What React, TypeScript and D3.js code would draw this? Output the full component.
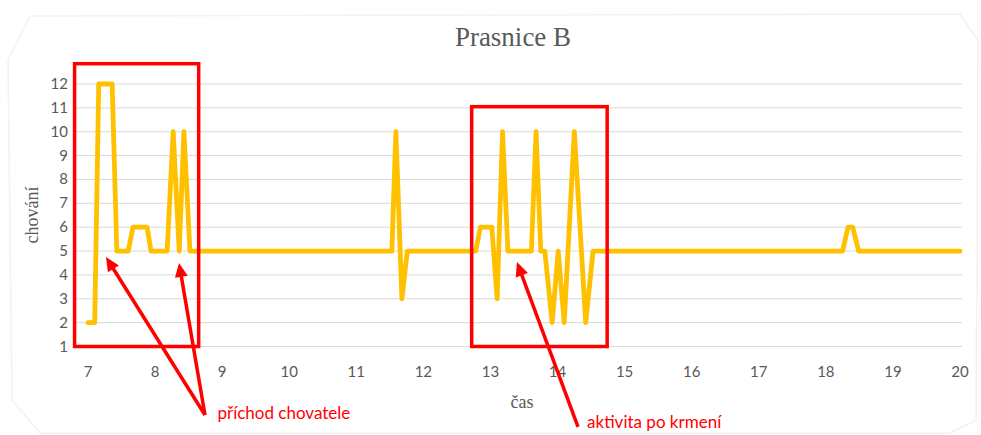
import React from "react";
import * as d3 from "d3";

const hours = [7.0, 7.1, 7.16, 7.36, 7.43, 7.6, 7.67, 7.88, 7.94, 8.18, 8.27, 8.36, 8.43, 8.52, 11.53, 11.59, 11.68, 11.76, 12.78, 12.85, 13.02, 13.1, 13.18, 13.26, 13.61, 13.68, 13.75, 13.81, 13.92, 14.01, 14.1, 14.25, 14.42, 14.53, 18.25, 18.33, 18.4, 18.49, 20.0];
const behaviour = [2, 2, 12, 12, 5, 5, 6, 6, 5, 5, 10, 5, 10, 5, 5, 10, 3, 5, 5, 6, 6, 3, 10, 5, 5, 10, 5, 5, 2, 5, 2, 10, 2, 5, 5, 6, 6, 5, 5];
const xTicks = [7, 8, 9, 10, 11, 12, 13, 14, 15, 16, 17, 18, 19, 20];
const yTicks = [1, 2, 3, 4, 5, 6, 7, 8, 9, 10, 11, 12];
const title = "Prasnice B";
const xTitle = "čas";
const yTitle = "chování";
// annotation boxes in data units
const boxes = [
  { x0: 6.8, x1: 8.65, yTop: 12.85, yBottom: 1 },
  { x0: 12.72, x1: 14.74, yTop: 11.05, yBottom: 1 },
];
// annotation arrows/labels in data units (extending below the plot)
const annotations = [
  { label: "příchod chovatele", from: [8.744, -1.87], targets: [[7.268, 4.75], [8.357, 4.5]], text: [8.93, -2.05] },
  { label: "aktivita po krmení", from: [14.305, -2.37], targets: [[13.395, 4.54]], text: [14.44, -2.4] },
];

export default function App() {
  const W = 981, H = 435;
  const x = d3.scaleLinear().domain([7, 20]).range([88, 960]);
  const y = d3.scaleLinear().domain([1, 12]).range([346.5, 84]);
  const data = hours.map((h, i) => [h, behaviour[i]] as [number, number]);
  const line = d3.line<[number, number]>().x(d => x(d[0])).y(d => y(d[1]));
  const gray = "#595959";
  const red = "#ff0000";

  const arrowHead = (fx: number, fy: number, tx: number, ty: number) => {
    const ang = Math.atan2(ty - fy, tx - fx);
    const L = 14, Wd = 6.5;
    const bx = tx - L * Math.cos(ang), by = ty - L * Math.sin(ang);
    const px = -Math.sin(ang), py = Math.cos(ang);
    return `M${tx},${ty}L${bx + px * Wd},${by + py * Wd}L${bx - px * Wd},${by - py * Wd}Z`;
  };

  return (
    <svg width={W} height={H} style={{ position: "absolute", left: 0, top: 0, background: "#fff" }}>
      <path d="M8,60 L30,16 L960,14 L978,40 L976,420 L950,433 L40,433 L12,400 Z" fill="#fff" stroke="#f2f2f2" strokeWidth={1.5} />
      <text x={513} y={46} textAnchor="middle" fontFamily="'Liberation Serif', serif" fontSize={27} fill={gray}>{title}</text>
      {yTicks.map(t => (
        <g key={t}>
          <line x1={75} x2={962} y1={y(t)} y2={y(t)} stroke="#d9d9d9" strokeWidth={1} />
          <text x={68} y={y(t) + 5} textAnchor="end" fontFamily="Lato, 'Open Sans', sans-serif" fontSize={15} fill={gray}>{t}</text>
        </g>
      ))}
      {xTicks.map(t => (
        <text key={t} x={x(t)} y={377} textAnchor="middle" fontFamily="Lato, 'Open Sans', sans-serif" fontSize={15} fill={gray}>{t}</text>
      ))}
      <text x={522} y={408} textAnchor="middle" fontFamily="'Liberation Serif', serif" fontSize={18} fill={gray}>{xTitle}</text>
      <text transform={`translate(38,215) rotate(-90)`} textAnchor="middle" fontFamily="'Liberation Serif', serif" fontSize={18} fill={gray}>{yTitle}</text>
      <path d={line(data) || ""} fill="none" stroke="#ffc000" strokeWidth={4.8} strokeLinejoin="round" strokeLinecap="round" />
      {boxes.map((b, i) => (
        <rect key={i} x={x(b.x0)} y={y(b.yTop)} width={x(b.x1) - x(b.x0)} height={y(b.yBottom) - y(b.yTop)} fill="none" stroke={red} strokeWidth={3.5} />
      ))}
      {annotations.map((a, i) => {
        const fx = x(a.from[0]), fy = y(a.from[1]);
        return (
          <g key={i}>
            {a.targets.map((t, j) => {
              const tx = x(t[0]), ty = y(t[1]);
              const ang = Math.atan2(ty - fy, tx - fx);
              return (
                <g key={j}>
                  <line x1={fx} y1={fy} x2={tx - 10 * Math.cos(ang)} y2={ty - 10 * Math.sin(ang)} stroke={red} strokeWidth={3.5} />
                  <path d={arrowHead(fx, fy, tx, ty)} fill={red} />
                </g>
              );
            })}
            <text x={x(a.text[0])} y={y(a.text[1])} fontFamily="Lato, 'Open Sans', sans-serif" fontSize={17} fill={red}>{a.label}</text>
          </g>
        );
      })}
    </svg>
  );
}
